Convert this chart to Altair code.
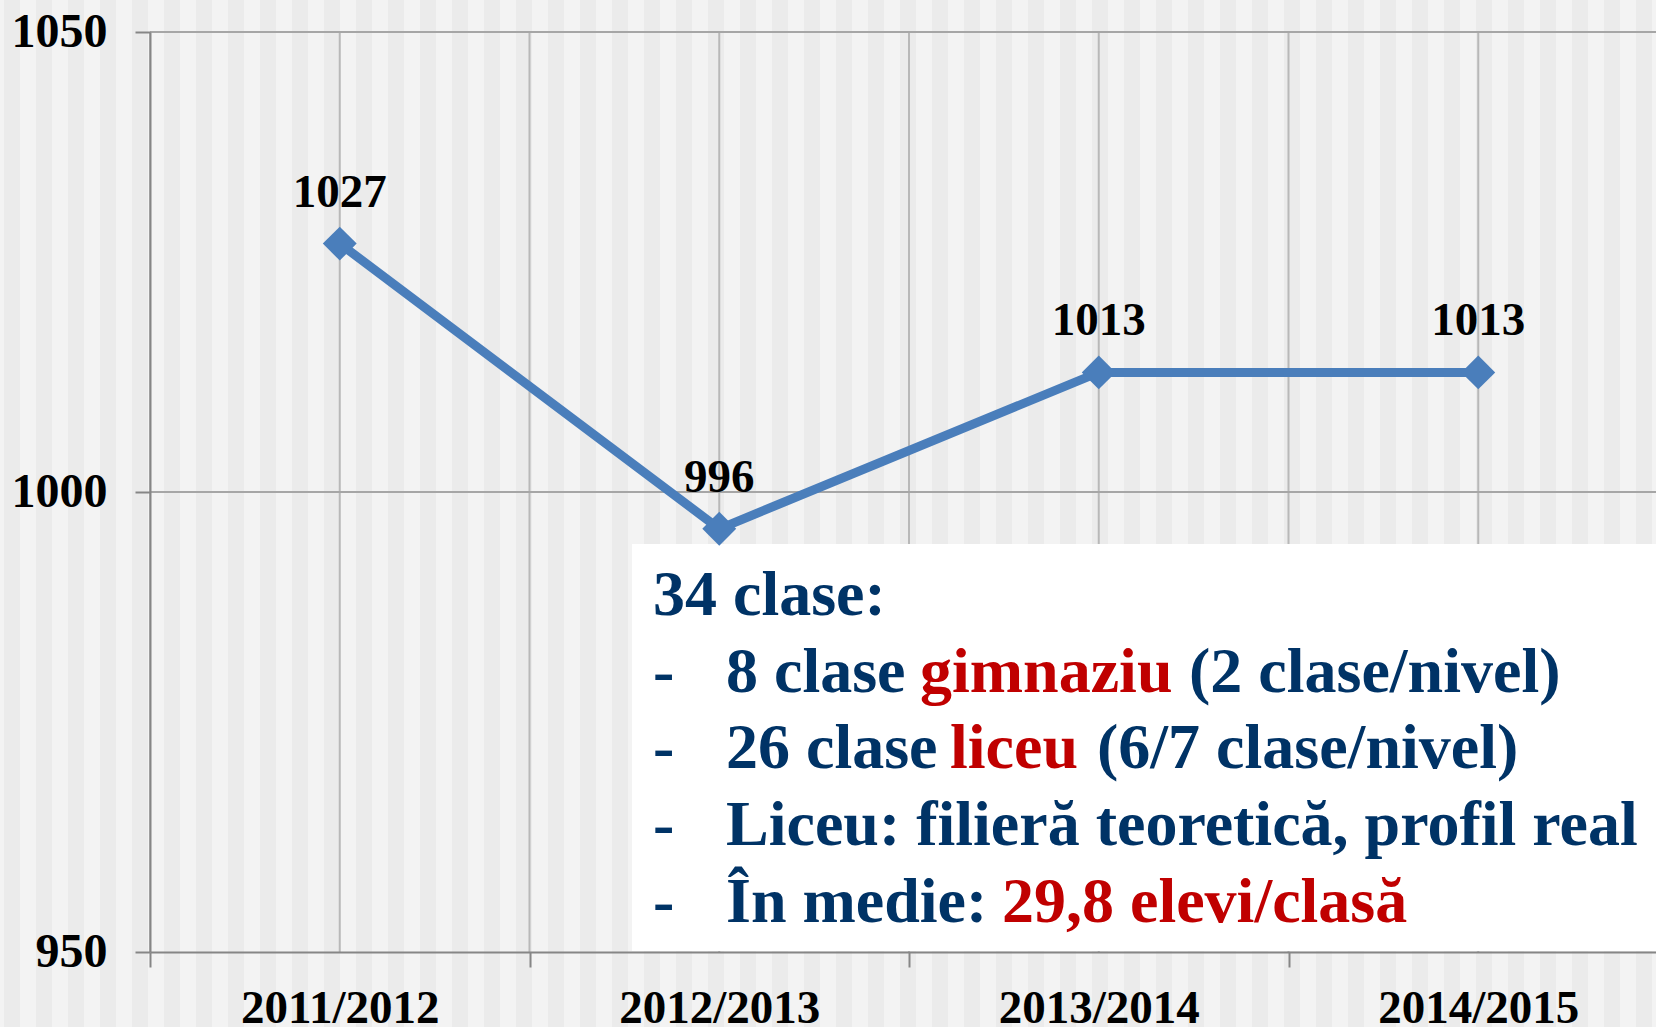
import json
import altair as alt
import pandas as pd

# ---- chart values ----
years = ["2011/2012", "2012/2013", "2013/2014", "2014/2015"]
students = [1027, 996, 1013, 1013]
y_ticks = [950, 1000, 1050]

# ---- annotation text (segments per line) ----
box_lines = [
    [("34 clase:", "navy")],
    [("-", "navy"), ("8 clase ", "navy"), ("gimnaziu", "red"), ("(2 clase/nivel)", "navy")],
    [("-", "navy"), ("26 clase ", "navy"), ("liceu", "red"), ("(6/7 clase/nivel)", "navy")],
    [("-", "navy"), ("Liceu: filieră teoretică, profil real", "navy")],
    [("-", "navy"), ("În medie: ", "navy"), ("29,8 elevi/clasă", "red")],
]
# layout of the annotation (pixels inside the plot area)
box_seg_x = [
    [503],
    [503, 576, 770, 1039],
    [503, 576, 800, 947],
    [503, 576],
    [503, 576, 852],
]
box_baselines = [583, 660, 736, 813, 890]

COLORS = {"navy": "#003366", "red": "#C00000"}
LINE_BLUE = "#4A7EBB"
FONT = "Liberation Serif"

W, H = 1506, 920
df = pd.DataFrame({"idx": list(range(len(years))), "year": years, "value": students})

x_domain = [-0.5, -0.5 + W / 379.5]
xscale = alt.Scale(domain=x_domain, nice=False, zero=False)
yscale = alt.Scale(domain=[y_ticks[0], y_ticks[-1]], nice=False, zero=False)

grid_x = [i * 0.5 - 0.5 for i in range(2 * len(years))]
label_expr = "datum.value % 1 === 0 ? " + json.dumps(years) + "[datum.value] : ''"

xaxis = alt.Axis(
    values=grid_x, grid=False, title=None, labelExpr=label_expr,
    labelFont=FONT, labelFontSize=47, labelFontWeight="bold", labelColor="#000000",
    labelPadding=18, tickSize=15, tickWidth=2, tickColor="#868686",
    tickOpacity={"condition": {"test": "datum.value % 1 !== 0", "value": 1}, "value": 0},
    domainColor="#868686", domainWidth=2, labelOverlap=False, labelFlush=False,
    labelBound=False, labelLimit=0, zindex=1,
)
yaxis = alt.Axis(
    values=y_ticks, grid=False, title=None, format="d",
    labelFont=FONT, labelFontSize=48, labelFontWeight="bold", labelColor="#000000",
    labelPadding=28, tickSize=15, tickWidth=2, tickColor="#868686",
    domainColor="#868686", domainWidth=2, labelOverlap=False, labelFlush=False,
    labelLimit=0, zindex=1,
)

def X(field):
    return alt.X(field, type="quantitative", scale=xscale, axis=xaxis)

def Y(field):
    return alt.Y(field, type="quantitative", scale=yscale, axis=yaxis)

# background stripes
stripes = (
    alt.Chart(alt.sequence(0, 53, as_="k"))
    .transform_calculate(sx="datum.k * 32 - 146", sx2="datum.k * 32 - 130")
    .mark_rect(color="#ebebeb", clip=False)
    .encode(
        x=alt.X("sx:Q", scale=None, axis=None),
        x2="sx2:Q",
        y=alt.value(-32),
        y2=alt.value(H + 75),
    )
)

vgrid = (
    alt.Chart(pd.DataFrame({"g": grid_x}))
    .mark_rule(color="#b8b8b8", strokeWidth=2)
    .encode(x=X("g"))
)
hgrid = (
    alt.Chart(pd.DataFrame({"g": y_ticks[1:]}))
    .mark_rule(color="#a6a6a6", strokeWidth=2)
    .encode(y=Y("g"))
)

line = alt.Chart(df).mark_line(color=LINE_BLUE, strokeWidth=9).encode(x=X("idx"), y=Y("value"))
points = (
    alt.Chart(df)
    .mark_point(shape="diamond", filled=True, size=1150, color=LINE_BLUE, opacity=1)
    .encode(x=X("idx"), y=Y("value"))
)
labels = (
    alt.Chart(df)
    .mark_text(font=FONT, fontSize=47, fontWeight="bold", color="#000000",
               baseline="alphabetic", align="center", dy=-37)
    .encode(x=X("idx"), y=Y("value"), text="value:N")
)

one = pd.DataFrame({"a": [0]})
box = (
    alt.Chart(one)
    .mark_rect(color="#ffffff")
    .encode(x=alt.value(482), x2=alt.value(W), y=alt.value(512), y2=alt.value(H - 1))
)

texts = []
for li, segs in enumerate(box_lines):
    for si, (txt, ck) in enumerate(segs):
        texts.append(
            alt.Chart(one)
            .mark_text(font=FONT, fontSize=64, fontWeight="bold", color=COLORS[ck],
                       align="left", baseline="alphabetic")
            .encode(x=alt.value(box_seg_x[li][si]), y=alt.value(box_baselines[li]),
                    text=alt.value(txt))
        )

chart = (
    alt.layer(stripes, vgrid, hgrid, box, line, points, labels, *texts)
    .properties(
        width=W, height=H,
        padding={"left": 150, "top": 32, "right": 0, "bottom": 75},
        autosize="none",
    )
    .configure(background="#f3f3f3")
    .configure_view(stroke=None)
)

chart.save("out.html", embed_options={"renderer": "svg", "actions": False})
